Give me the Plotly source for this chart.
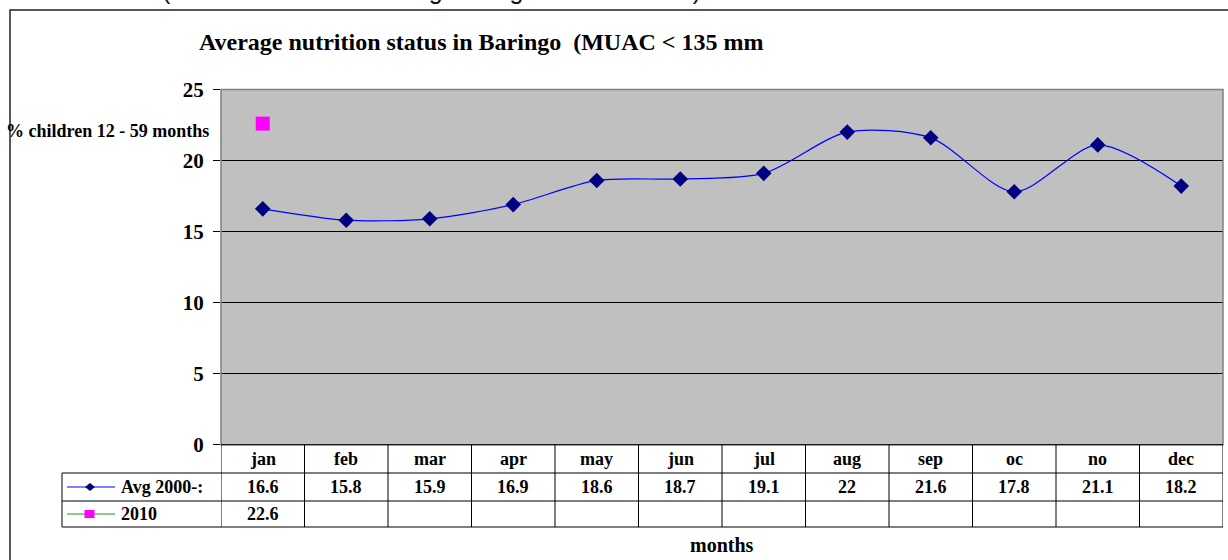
import plotly.graph_objects as go

months = ["jan", "feb", "mar", "apr", "may", "jun", "jul", "aug", "sep", "oc", "no", "dec"]
avg_2000 = [16.6, 15.8, 15.9, 16.9, 18.6, 18.7, 19.1, 22, 21.6, 17.8, 21.1, 18.2]
y2010 = [22.6] + [None] * 11
series_names = ["Avg 2000-:", "2010"]
y_ticks = [0, 5, 10, 15, 20, 25]

W, H = 1228, 560
SERIF = "Liberation Serif, Times New Roman, serif"

def px(x):
    return x / W

def py(y):
    return 1 - y / H

PL, PR, PT, PB = 221, 1223, 89.5, 444.7
ROW1, ROW2, ROW3 = 473, 501, 527
TAB_L = 62

fig = go.Figure()

fig.add_trace(go.Scatter(
    x=months, y=avg_2000, mode="lines+markers", name=series_names[0],
    line=dict(color="#0000FF", width=1.2, shape="spline", smoothing=0.8),
    marker=dict(symbol="diamond", size=12, color="#000080", line=dict(width=0)),
    showlegend=False, cliponaxis=False,
))
fig.add_trace(go.Scatter(
    x=months, y=y2010, mode="markers", name=series_names[1],
    marker=dict(symbol="square", size=14, color="#FF00FF", line=dict(width=0)),
    showlegend=False, cliponaxis=False,
))

shapes = []
# outer chart border
shapes.append(dict(type="rect", xref="paper", yref="paper", x0=px(10), y0=-0.05, x1=1.05, y1=py(10),
                   line=dict(color="#222222", width=1.5), layer="below"))
# plot area border
shapes.append(dict(type="rect", xref="paper", yref="paper", x0=px(PL), y0=py(PB), x1=px(PR), y1=py(PT),
                   line=dict(color="#808080", width=1.5)))
# table horizontal lines
for yy in (ROW1, ROW2, ROW3):
    shapes.append(dict(type="line", xref="paper", yref="paper", x0=px(TAB_L), x1=px(PR), y0=py(yy), y1=py(yy),
                       line=dict(color="#000000", width=1)))
shapes.append(dict(type="line", xref="paper", yref="paper", x0=px(PL), x1=px(PR), y0=py(PB), y1=py(PB),
                   line=dict(color="#000000", width=1)))
# table vertical lines
shapes.append(dict(type="line", xref="paper", yref="paper", x0=px(TAB_L), x1=px(TAB_L), y0=py(ROW1), y1=py(ROW3),
                   line=dict(color="#000000", width=1)))
for i in range(len(months) + 1):
    shapes.append(dict(type="line", xref="x", yref="paper", x0=i - 0.5, x1=i - 0.5, y0=py(PB), y1=py(ROW3),
                       line=dict(color="#000000", width=1)))

# legend keys in the data table
r1 = (ROW1 + ROW2) / 2
r2 = (ROW2 + ROW3) / 2
shapes.append(dict(type="line", xref="paper", yref="paper", x0=px(67), x1=px(115), y0=py(r1), y1=py(r1),
                   line=dict(color="#0000FF", width=1.2)))
shapes.append(dict(type="path", xref="paper", yref="paper",
                   path=f"M {px(85)} {py(r1)} L {px(90)} {py(r1 - 4)} L {px(95)} {py(r1)} L {px(90)} {py(r1 + 4)} Z",
                   fillcolor="#000080", line=dict(width=0)))
shapes.append(dict(type="line", xref="paper", yref="paper", x0=px(67), x1=px(115), y0=py(r2), y1=py(r2),
                   line=dict(color="#66BB66", width=1.5)))
shapes.append(dict(type="rect", xref="paper", yref="paper", x0=px(84.5), x1=px(94.5), y0=py(r2 - 4), y1=py(r2 + 4),
                   fillcolor="#FF00FF", line=dict(width=0)))

annotations = []
cell_font = dict(family=SERIF, size=18, color="#000000", weight="bold")
for i, m in enumerate(months):
    annotations.append(dict(x=m, xref="x", y=py((PB + ROW1) / 2), yref="paper", text=m, showarrow=False,
                            font=cell_font, xanchor="center", yanchor="middle"))
    annotations.append(dict(x=m, xref="x", y=py(r1), yref="paper", text=f"{avg_2000[i]:g}",
                            showarrow=False, font=cell_font, xanchor="center", yanchor="middle"))
    if y2010[i] is not None:
        annotations.append(dict(x=m, xref="x", y=py(r2), yref="paper", text=f"{y2010[i]:g}",
                                showarrow=False, font=cell_font, xanchor="center", yanchor="middle"))
annotations.append(dict(x=px(119), y=py(r1), xref="paper", yref="paper", text=series_names[0],
                        showarrow=False, font=cell_font, xanchor="left", yanchor="middle"))
annotations.append(dict(x=px(119), y=py(r2), xref="paper", yref="paper", text=series_names[1],
                        showarrow=False, font=cell_font, xanchor="left", yanchor="middle"))
# cut-off heading above the chart (only its lowest part is visible)
annotations.append(dict(x=px(160), y=py(-10), xref="paper", yref="paper",
                        text="(Nutrition status in Baringo using MUAC in 2010)",
                        showarrow=False, font=dict(family="Liberation Sans, Arial, sans-serif", size=25, color="#111111"),
                        xanchor="left", yanchor="middle"))
# title
annotations.append(dict(x=px(481), y=py(42), xref="paper", yref="paper",
                        text="Average nutrition status in Baringo  (MUAC &lt; 135 mm",
                        showarrow=False, font=dict(family=SERIF, size=24, color="#000000", weight="bold"),
                        xanchor="center", yanchor="middle"))
# y axis title
annotations.append(dict(x=px(107), y=py(131), xref="paper", yref="paper", text="% children 12 - 59 months",
                        showarrow=False, font=dict(family=SERIF, size=18, color="#000000", weight="bold"),
                        xanchor="center", yanchor="middle"))
# x axis title
annotations.append(dict(x=px(722), y=py(545), xref="paper", yref="paper", text="months",
                        showarrow=False, font=dict(family=SERIF, size=20, color="#000000", weight="bold"),
                        xanchor="center", yanchor="middle"))

fig.update_layout(
    width=W, height=H, margin=dict(l=0, r=0, t=0, b=0),
    paper_bgcolor="#FFFFFF", plot_bgcolor="#C0C0C0",
    xaxis=dict(domain=[px(PL), px(PR)], type="category", range=[-0.5, len(months) - 0.5],
               showticklabels=False, showgrid=False, zeroline=False, ticks="", automargin=False),
    yaxis=dict(domain=[py(PB), py(PT)], range=[0, 25], tickvals=y_ticks, showgrid=True,
               gridcolor="#000000", gridwidth=1, zeroline=False, ticks="outside", ticklen=7,
               tickcolor="#000000", tickfont=dict(family=SERIF, size=21, color="#000000", weight="bold"),
               ticklabelstandoff=5, automargin=False),
    shapes=shapes, annotations=annotations,
)

fig.write_html(
    "out.html",
    config={"displayModeBar": False},
    post_script="document.documentElement.style.margin='0';document.body.style.margin='0';"
                "document.body.style.padding='0';document.body.style.overflow='hidden';"
                "document.documentElement.style.overflow='hidden';",
)
